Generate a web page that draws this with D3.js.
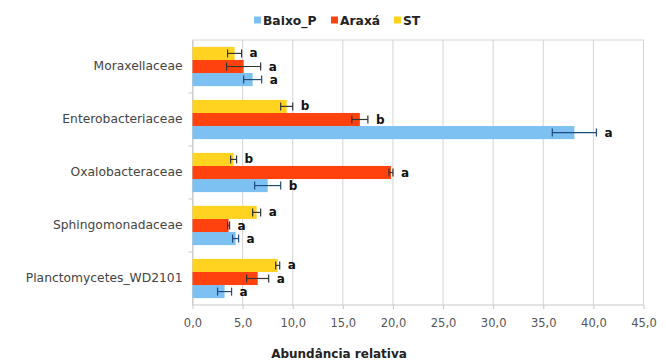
<!DOCTYPE html>
<html><head><meta charset="utf-8">
<script src="https://cdn.jsdelivr.net/npm/d3@7"></script>
<style>body{margin:0;background:#fff}svg{display:block;font-family:"DejaVu Sans",sans-serif}</style>
</head><body><svg id="c" width="666" height="364"></svg>
<script>
const categories = ["Moraxellaceae","Enterobacteriaceae","Oxalobacteraceae","Sphingomonadaceae","Planctomycetes_WD2101"];
const seriesNames = ["Baixo_P","Araxá","ST"];
const baixoP = [6.0, 38.1, 7.5, 4.3, 3.2];
const baixoPErr = [0.9, 2.2, 1.3, 0.3, 0.7];
const baixoPLetters = ["a","a","b","a","a"];
const araxa = [5.1, 16.7, 19.8, 3.6, 6.5];
const araxaErr = [1.7, 0.8, 0.2, 0.1, 1.1];
const araxaLetters = ["a","b","a","a","a"];
const st = [4.2, 9.4, 4.1, 6.4, 8.5];
const stErr = [0.7, 0.6, 0.3, 0.4, 0.2];
const stLetters = ["a","b","b","a","a"];
const xTicks = [0,5,10,15,20,25,30,35,40,45];
const colors = ["#7dc1f3","#ff420e","#ffd320"];
const errColors = ["#1f4a7a","#333","#333"];

const series = [
  {name: seriesNames[0], vals: baixoP, err: baixoPErr, let: baixoPLetters},
  {name: seriesNames[1], vals: araxa, err: araxaErr, let: araxaLetters},
  {name: seriesNames[2], vals: st, err: stErr, let: stLetters}
];

const svg = d3.select("#c");
const FONT = "DejaVu Sans, sans-serif";
const L = 192.5, R = 643.5, T = 40, B = 305;
const x = d3.scaleLinear().domain([0,45]).range([L,R]);
const y = d3.scaleBand().domain(categories).range([T,B]).paddingInner(0.26).paddingOuter(0.13);
const inner = d3.scaleBand().domain([seriesNames[2],seriesNames[1],seriesNames[0]]).range([0,y.bandwidth()]);

// grid
svg.append("g").selectAll("line").data(xTicks).join("line")
  .attr("x1",d=>x(d)).attr("x2",d=>x(d)).attr("y1",T).attr("y2",B)
  .attr("stroke","#d4d4d4").attr("stroke-width",1);
svg.append("line").attr("x1",L).attr("x2",R).attr("y1",T).attr("y2",T).attr("stroke","#d4d4d4");
svg.append("line").attr("x1",L).attr("x2",R).attr("y1",B).attr("y2",B).attr("stroke","#c8c8c8");

// x axis
const xa = svg.append("g").attr("transform",`translate(0,${B})`)
  .call(d3.axisBottom(x).tickValues(xTicks).tickSize(4).tickPadding(10).tickFormat(d=>d3.format(".1f")(d).replace(".",",")));
xa.select(".domain").remove();
xa.selectAll("line").attr("stroke","#c8c8c8");
xa.selectAll("text").attr("font-size","11.5px").attr("fill","#555").attr("font-family",FONT);

// y axis
const ya = svg.append("g").attr("transform",`translate(${L},0)`)
  .call(d3.axisLeft(y).tickSize(0).tickPadding(10));
ya.select(".domain").attr("stroke","#c8c8c8");
ya.selectAll("text").attr("font-size","12.3px").attr("fill","#444").attr("font-family",FONT);
const bounds = categories.slice(1).map((c)=> y(c) - y.step()*y.paddingInner()/2);
svg.append("g").selectAll("line").data(bounds).join("line")
  .attr("x1",L-4).attr("x2",L).attr("y1",d=>d).attr("y2",d=>d).attr("stroke","#c8c8c8");

// bars
series.forEach((s,si)=>{
  const g = svg.append("g");
  categories.forEach((c,ci)=>{
    const yy = y(c) + inner(s.name);
    const h = inner.bandwidth();
    g.append("rect").attr("x",x(0)).attr("y",yy).attr("width",x(s.vals[ci])-x(0)).attr("height",h).attr("fill",colors[si]);
    const cy = yy + h/2;
    const lo = x(s.vals[ci]-s.err[ci]), hi = x(s.vals[ci]+s.err[ci]);
    g.append("line").attr("x1",lo).attr("x2",hi).attr("y1",cy).attr("y2",cy).attr("stroke",errColors[si]).attr("stroke-width",1.2);
    [lo,hi].forEach(px=>g.append("line").attr("x1",px).attr("x2",px).attr("y1",cy-4).attr("y2",cy+4).attr("stroke",errColors[si]).attr("stroke-width",1.2));
    g.append("text").attr("x",hi+8).attr("y",cy+4).attr("font-size","12px").attr("font-weight","bold").attr("font-family",FONT).attr("fill","#111").text(s.let[ci]);
  });
});

// legend
const lg = svg.append("g");
const legSq = [254, 331, 394];
series.forEach((s,i)=>{
  lg.append("rect").attr("x",legSq[i]).attr("y",16.5).attr("width",7).attr("height",7).attr("fill",colors[i]);
  lg.append("text").attr("x",legSq[i]+9).attr("y",24.5).attr("font-size","12.3px").attr("font-weight","bold").attr("font-family",FONT).attr("fill","#222").text(s.name);
});

// axis title
svg.append("text").attr("x",339).attr("y",358).attr("text-anchor","middle")
  .attr("font-size","12px").attr("font-weight","bold").attr("font-family",FONT).attr("fill","#222").text("Abundância relativa");
</script></body></html>
